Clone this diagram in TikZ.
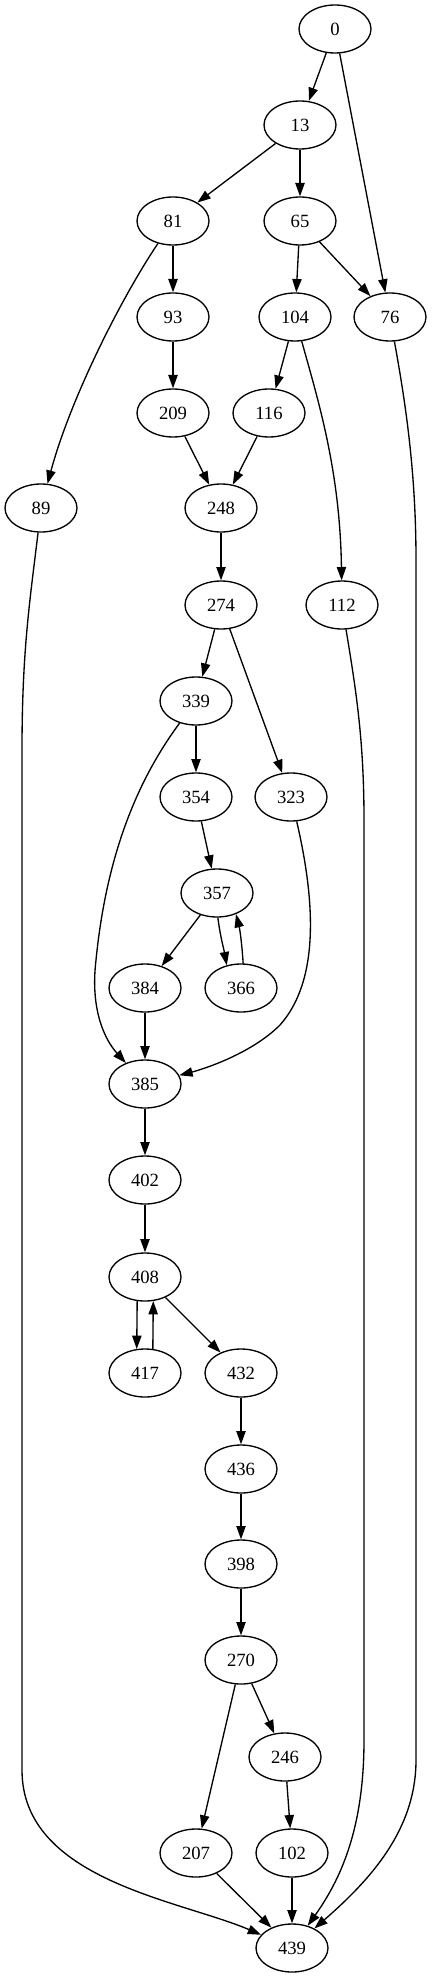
\documentclass[tikz,border=0pt]{standalone}
\usepackage{fontspec}
\setmainfont{Liberation Serif}
\usetikzlibrary{arrows.meta,shapes.geometric}
\begin{document}
\begin{tikzpicture}[x=0.75pt,y=-0.75pt,
  vnode/.style={ellipse,draw,line width=1pt,minimum width=54pt,minimum height=36pt,inner sep=0pt,font=\fontsize{14}{16}\selectfont},
  edge/.style={line width=1pt,-{Triangle[length=10pt,width=7pt]}}]
\useasboundingbox (0,0) rectangle (432,1979);
% nodes
\node[vnode] (n0) at (335,29) {0};
\node[vnode] (n13) at (300,125) {13};
\node[vnode] (n81) at (173,221) {81};
\node[vnode] (n65) at (300,221) {65};
\node[vnode] (n93) at (173,317) {93};
\node[vnode] (n104) at (295,317) {104};
\node[vnode] (n76) at (390,317) {76};
\node[vnode] (n209) at (173,413) {209};
\node[vnode] (n116) at (269,413) {116};
\node[vnode] (n89) at (41,508) {89};
\node[vnode] (n248) at (221,508) {248};
\node[vnode] (n274) at (221,605) {274};
\node[vnode] (n112) at (342,605) {112};
\node[vnode] (n339) at (196,701) {339};
\node[vnode] (n354) at (196,797) {354};
\node[vnode] (n323) at (291,797) {323};
\node[vnode] (n357) at (217,893) {357};
\node[vnode] (n384) at (145,988) {384};
\node[vnode] (n366) at (241,988) {366};
\node[vnode] (n385) at (145,1084) {385};
\node[vnode] (n402) at (145,1180) {402};
\node[vnode] (n408) at (145,1277) {408};
\node[vnode] (n417) at (145,1373) {417};
\node[vnode] (n432) at (241,1373) {432};
\node[vnode] (n436) at (241,1469) {436};
\node[vnode] (n398) at (241,1564) {398};
\node[vnode] (n270) at (241,1660) {270};
\node[vnode] (n246) at (285,1757) {246};
\node[vnode] (n207) at (196,1853) {207};
\node[vnode] (n102) at (292,1853) {102};
\node[vnode] (n439) at (292,1948) {439};
% edges
\draw[edge] (n0) -- (n13);
\draw[edge] (n0) -- (n76);
\draw[edge] (n13) -- (n81);
\draw[edge] (n13) -- (n65);
\draw[edge] (n81) -- (n93);
\draw[edge] (n81) .. controls (120,300) and (70,400) .. (n89);
\draw[edge] (n65) -- (n104);
\draw[edge] (n65) -- (n76);
\draw[edge] (n93) -- (n209);
\draw[edge] (n104) -- (n116);
\draw[edge] (n104) .. controls (318,400) and (340,470) .. (n112);
\draw[edge] (n209) -- (n248);
\draw[edge] (n116) -- (n248);
\draw[edge] (n248) -- (n274);
\draw[edge] (n274) -- (n339);
\draw[edge] (n274) -- (n323);
\draw[edge] (n339) -- (n354);
\draw[edge] (n339) .. controls (130,790) and (105,870) .. (96,960) .. controls (90,1010) and (105,1040) .. (n385);
\draw[edge] (n354) -- (n357);
\draw[edge] (n357) -- (n384);
\draw[edge] (n357.-88) .. controls (220,935) and (224,950) .. (n366.122);
\draw[edge] (n366.85) .. controls (242,945) and (240,930) .. (n357.-48);
\draw[edge] (n384) -- (n385);
\draw[edge] (n323) .. controls (315,900) and (320,980) .. (280,1025) .. controls (250,1055) and (200,1070) .. (n385);
\draw[edge] (n385) -- (n402);
\draw[edge] (n402) -- (n408);
\draw[edge] (n408.-108) -- (n417.109);
\draw[edge] (n417.72) -- (n408.-71);
\draw[edge] (n408) -- (n432);
\draw[edge] (n432) -- (n436);
\draw[edge] (n436) -- (n398);
\draw[edge] (n398) -- (n270);
\draw[edge] (n270) -- (n246);
\draw[edge] (n270) -- (n207);
\draw[edge] (n246) -- (n102);
\draw[edge] (n207) -- (n439);
\draw[edge] (n102) -- (n439);
\draw[edge] (n89) .. controls (30,600) and (22,650) .. (22,750) -- (22,1770) .. controls (22,1880) and (180,1900) .. (n439);
\draw[edge] (n112) .. controls (356,690) and (364,740) .. (364,820) -- (364,1740) .. controls (364,1830) and (340,1880) .. (n439);
\draw[edge] (n76) .. controls (405,400) and (416,470) .. (416,560) -- (416,1760) .. controls (416,1830) and (370,1880) .. (n439);
\end{tikzpicture}
\end{document}
